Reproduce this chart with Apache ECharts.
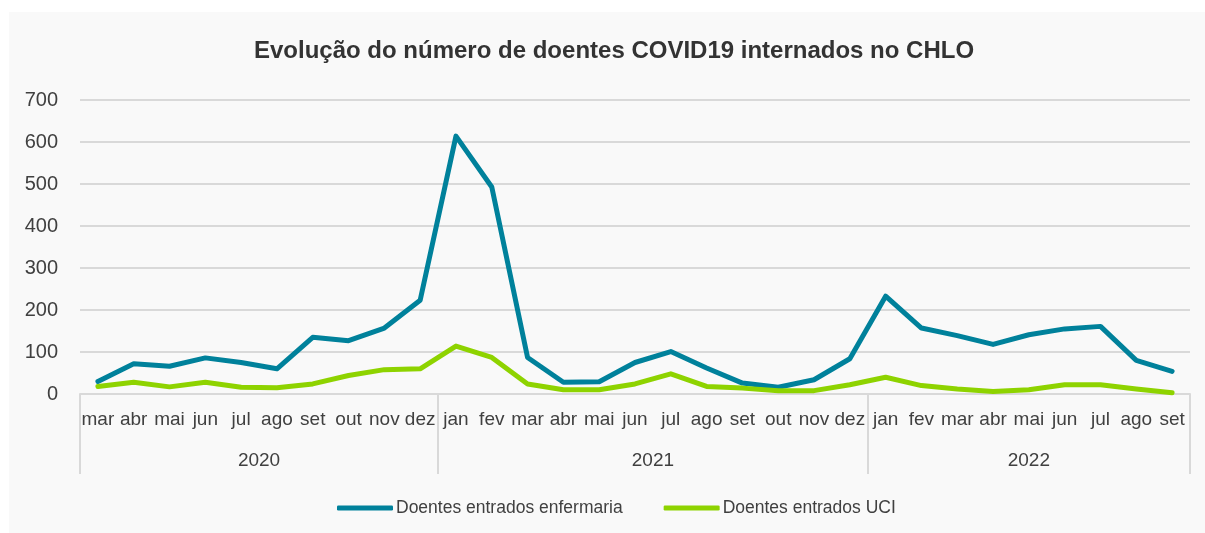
<!DOCTYPE html>
<html>
<head>
<meta charset="utf-8">
<script src="https://cdn.jsdelivr.net/npm/echarts@6/dist/echarts.min.js"></script>
<style>
  html, body { margin: 0; padding: 0; background: #ffffff; }
  #chart {
    position: absolute; left: 9px; top: 12px;
    width: 1196px; height: 521px;
    background: #f9f9f9;
  }
</style>
</head>
<body>
<div id="chart"></div>
<script>
// month labels, mar 2020 .. set 2022
const months = ['mar','abr','mai','jun','jul','ago','set','out','nov','dez',
  'jan','fev','mar','abr','mai','jun','jul','ago','set','out','nov','dez',
  'jan','fev','mar','abr','mai','jun','jul','ago','set'];
const years = ['2020', '2021', '2022'];
const monthsPerYear = [10, 12, 9];

const enfermaria = [30,72,66,86,75,60,135,127,157,223,
  614,493,87,28,29,75,101,62,26,16,34,84,
  233,157,139,118,141,155,161,80,54];
const uci = [18,28,17,28,16,15,24,44,58,60,
  114,87,24,10,10,24,48,18,14,8,8,22,
  40,20,12,6,10,22,22,12,3];

const yTicks = [0, 100, 200, 300, 400, 500, 600, 700];

// year boundaries and centres on a 0..n value axis laid over the categories
var bounds = [0], centres = [];
monthsPerYear.forEach(function (n, i) {
  var start = bounds[i];
  bounds.push(start + n);
  centres.push(start + n / 2);
});

const FONT = '"Liberation Sans", Arial, sans-serif';
const TXT = '#404040';

var myChart = echarts.init(document.getElementById('chart'));
var option = {
  animation: false,
  title: {
    text: 'Evolução do número de doentes COVID19 internados no CHLO',
    left: 240,
    top: 22,
    textStyle: { fontFamily: FONT, fontSize: 24, fontWeight: 'bold', color: '#333333' }
  },
  legend: {
    bottom: 11,
    left: 323,
    itemWidth: 56,
    itemHeight: 5,
    itemGap: 41,
    icon: 'roundRect',
    textStyle: { fontFamily: FONT, fontSize: 17.5, color: TXT, padding: [0, 0, 0, -2] },
    data: ['Doentes entrados enfermaria', 'Doentes entrados UCI']
  },
  grid: { left: 71, right: 15, top: 88, bottom: 139 },
  xAxis: [
    {
      type: 'category',
      data: months,
      axisLine: { lineStyle: { color: '#d9d9d9', width: 2 } },
      axisTick: { show: false },
      axisLabel: { interval: 0, margin: 16, fontFamily: FONT, fontSize: 19, color: TXT }
    },
    {
      type: 'value',
      min: 0,
      max: months.length,
      position: 'bottom',
      axisLine: { show: false },
      splitLine: { show: false },
      axisTick: {
        show: true,
        customValues: bounds,
        length: 80,
        lineStyle: { color: '#d9d9d9', width: 2 }
      },
      axisLabel: {
        customValues: centres,
        margin: 57,
        fontFamily: FONT, fontSize: 19, color: TXT,
        formatter: function (v) { return years[centres.indexOf(v)]; }
      }
    }
  ],
  yAxis: {
    type: 'value',
    min: 0,
    max: 700,
    interval: 100,
    axisLine: { show: false },
    axisTick: { show: false },
    splitLine: { lineStyle: { color: '#d9d9d9', width: 2 } },
    axisLabel: {
      margin: 22, fontFamily: FONT, fontSize: 20, color: TXT,
      formatter: function (v) { return yTicks.indexOf(v) >= 0 ? String(v) : ''; }
    }
  },
  series: [
    {
      name: 'Doentes entrados enfermaria',
      type: 'line',
      data: enfermaria,
      symbol: 'none',
      color: '#00819b',
      lineStyle: { width: 5, cap: 'round', join: 'round' }
    },
    {
      name: 'Doentes entrados UCI',
      type: 'line',
      data: uci,
      symbol: 'none',
      color: '#8ed300',
      lineStyle: { width: 5, cap: 'round', join: 'round' }
    }
  ]
};
myChart.setOption(option);
</script>
</body>
</html>
